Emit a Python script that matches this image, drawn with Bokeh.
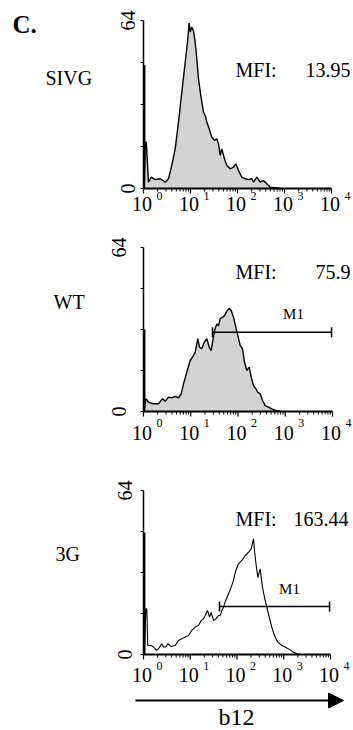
import numpy as np
from bokeh.plotting import figure
from bokeh.layouts import column
from bokeh.models import Range1d, Arrow, NormalHead
from bokeh.core.properties import value
from bokeh.embed import file_html
from bokeh.resources import INLINE

# ---- data: b12 staining histograms (x in decades of fluorescence, y in events) ----
decades = [0, 1, 2, 3, 4]
count_ticks = [0, 16, 32, 48, 64]
count_max = 64

samples = ["SIVG", "WT", "3G"]
mfi = [13.95, 75.9, 163.44]
first_channel_log = 0.015
first_channel_counts = [47, 32, 47.6]

sivg_log = [0.02, 0.04, 0.06, 0.106, 0.164, 0.249, 0.355, 0.462, 0.532, 0.602,
            0.674, 0.745, 0.815, 0.887, 0.936, 0.972, 0.994, 1.028, 1.064, 1.100,
            1.134, 1.170, 1.219, 1.277, 1.313, 1.347, 1.398, 1.453, 1.511, 1.560,
            1.596, 1.632, 1.666, 1.723, 1.772, 1.845, 1.915, 1.964, 2.021, 2.091,
            2.164, 2.234, 2.304, 2.340, 2.411, 2.483, 2.553, 2.623, 2.696, 2.802, 2.91]
sivg_counts = [0, 17.6, 17.6, 2.4, 4.3, 3.4, 3.7, 2.4, 3.7, 8.8,
               15.1, 25.3, 36.7, 48, 55.7, 63, 59.6, 61.5, 60, 55.7,
               49.4, 41.8, 35.4, 29, 27.8, 25.3, 22.7, 19.5, 18.3, 18.9,
               17, 12.6, 15.1, 11.3, 8.8, 7.5, 8.1, 9.4, 6.9, 4.3,
               3.7, 3.4, 3.7, 2.4, 4.3, 2.4, 3, 1.8, 0.5, 0.3, 0]

wt_log = [0.02, 0.049, 0.106, 0.212, 0.317, 0.402, 0.459, 0.529, 0.599, 0.671,
          0.741, 0.798, 0.847, 0.916, 0.988, 1.037, 1.094, 1.149, 1.185, 1.234,
          1.285, 1.340, 1.390, 1.433, 1.460, 1.503, 1.551, 1.587, 1.623, 1.672,
          1.714, 1.763, 1.814, 1.856, 1.905, 1.953, 1.996, 2.047, 2.095, 2.138,
          2.186, 2.237, 2.279, 2.328, 2.377, 2.419, 2.470, 2.519, 2.575, 2.646,
          2.715, 2.800, 2.90]
wt_counts = [0, 5.0, 3.6, 3.0, 3.0, 5.0, 4.0, 5.6, 5.3, 5.9,
             5.3, 6.9, 10.8, 15.3, 19.9, 21.2, 23.1, 28.4, 25.1, 24.5,
             27.0, 28.4, 25.1, 23.8, 27.0, 31.6, 34.2, 33.5, 36.2, 36.8,
             37.4, 39.1, 40.3, 39.4, 36.8, 32.9, 29.6, 25.7, 24.5, 19.2,
             16.0, 17.3, 13.4, 10.1, 8.9, 7.5, 6.9, 4.3, 2.3, 1.7,
             1.0, 0.4, 0]

g3_log = [0.02, 0.05, 0.07, 0.092, 0.165, 0.214, 0.284, 0.336, 0.391, 0.428,
          0.477, 0.520, 0.593, 0.678, 0.749, 0.819, 0.892, 0.963, 1.033, 1.106,
          1.176, 1.234, 1.283, 1.320, 1.369, 1.412, 1.448, 1.497, 1.547, 1.604,
          1.641, 1.675, 1.711, 1.760, 1.818, 1.876, 1.925, 1.974, 2.032, 2.103,
          2.175, 2.246, 2.304, 2.353, 2.374, 2.402, 2.445, 2.496, 2.545, 2.588,
          2.637, 2.689, 2.744, 2.802, 2.873, 2.958, 3.031, 3.138, 3.209, 3.279, 3.36]
g3_counts = [0, 17.8, 17.8, 3.5, 3.5, 2.9, 1.6, 2.6, 4.2, 2.9,
             2.9, 4.2, 3.1, 3.5, 5.5, 6.1, 6.8, 7.4, 9.4, 10.7,
             11.3, 13.3, 13.9, 15.2, 17.2, 14.6, 16.5, 13.3, 13.9, 15.2,
             15.2, 17.2, 18.5, 21.1, 23.7, 26.3, 28.9, 32.8, 35.4, 36.7,
             38.6, 39.9, 41.2, 45.1, 40.6, 36.0, 30.1, 33.4, 26.3, 22.3,
             18.5, 14.6, 10.7, 7.4, 4.8, 3.5, 2.9, 1.8, 0.9, 0.3, 0]

# M1 marker gates: [start decade, end decade], drawn at a given count level
wt_gate = [1.46, 3.98]
wt_gate_level = 30.9
g3_gate = [1.626, 3.98]
g3_gate_level = 18.7

SERIF = value("Liberation Serif")
FILL = "#d3d3d3"
W = 353


def make_panel(height, left, right, top, bottom):
    """A panel whose frame is the whole canvas; pixel box of the axes is given."""
    ppd = (right - left) / 4.0
    ppc = (bottom - top) / float(count_max)
    p = figure(width=W, height=height, output_backend="svg", toolbar_location=None,
               x_range=Range1d(-left / ppd, (W - left) / ppd),
               y_range=Range1d(-(height - bottom) / ppc, bottom / ppc),
               min_border=0, x_axis_location=None, y_axis_location=None)
    p.xgrid.visible = False
    p.ygrid.visible = False
    p.outline_line_color = None
    p.background_fill_color = "white"
    p.border_fill_color = "white"

    def sx(px):
        return (px - left) / ppd

    def sy(py):
        return (bottom - py) / ppc

    return p, sx, sy, ppd, ppc


def draw_text(p, sx, sy, px, py, s, size="20px", style="normal", align="left", angle=0.0):
    p.text(x=[sx(px)], y=[sy(py)], text=[s], text_font=SERIF, text_font_size=size,
           text_font_style=style, text_align=align, text_baseline="middle",
           angle=angle, text_color="black")


def draw_axes(p, sx, sy, ppd, ppc, label_mid, sup_mid, ylab_mid):
    # y axis with short outward ticks
    p.line([0, 0], [0, count_max], line_color="black", line_width=1.5)
    p.segment(x0=[-3 / ppd] * len(count_ticks), y0=count_ticks,
              x1=[0] * len(count_ticks), y1=count_ticks, line_color="black", line_width=1.2)
    # x axis with logarithmic minor ticks
    p.line([decades[0], decades[-1]], [0, 0], line_color="black", line_width=2)
    p.segment(x0=decades, y0=[0] * len(decades), x1=decades,
              y1=[-5 / ppc] * len(decades), line_color="black", line_width=1.2)
    minors = [d + np.log10(k) for d in decades[:-1] for k in range(2, 10)]
    p.segment(x0=minors, y0=[0] * len(minors), x1=minors,
              y1=[-3 / ppc] * len(minors), line_color="black", line_width=1)
    # decade labels: "10" with a raised exponent
    p.text(x=[d - 1.5 / ppd for d in decades], y=[sy(label_mid)] * len(decades),
           text=["10"] * len(decades), text_font=SERIF, text_font_size="20px",
           text_align="center", text_baseline="middle", text_color="black")
    p.text(x=[d + 13 / ppd for d in decades], y=[sy(sup_mid)] * len(decades),
           text=[str(d) for d in decades], text_font=SERIF, text_font_size="12px",
           text_align="left", text_baseline="middle", text_color="black")
    # rotated count labels at both ends of the y axis
    p.text(x=[sx(ylab_mid)] * 2, y=[0, count_max], text=["0", str(count_max)],
           angle=np.pi / 2, text_font=SERIF, text_font_size="20px",
           text_align="center", text_baseline="middle", text_color="black")


def draw_hist(p, xs, ys, filled, first_count):
    p.segment(x0=[first_channel_log], y0=[0], x1=[first_channel_log], y1=[first_count],
              line_color="black", line_width=2.5)
    if filled:
        p.varea(x=xs, y1=[0] * len(xs), y2=ys, fill_color=FILL)
        p.line(xs, ys, line_color="black", line_width=1.4)
    else:
        p.line(xs, ys, line_color="black", line_width=1.1)


def draw_gate(p, sx, sy, gate, level, label_px, label_py):
    p.line(gate, [level, level], line_color="black", line_width=1.5)
    p.scatter(gate, [level, level], marker="dash", angle=np.pi / 2, size=10,
              line_color="black", line_width=1.5)
    draw_text(p, sx, sy, label_px, label_py, "M1", size="15px", align="center")


# ---- panel 1: SIVG (page rows 0-225) ----
p1, sx, sy, ppd, ppc = make_panel(225, 143, 331, 20, 188)
draw_hist(p1, sivg_log, sivg_counts, True, first_channel_counts[0])
draw_axes(p1, sx, sy, ppd, ppc, 203.5, 195, 127)
draw_text(p1, sx, sy, 12, 23.5, "C.", size="25px", style="bold")
draw_text(p1, sx, sy, 45, 77, samples[0])
draw_text(p1, sx, sy, 235, 69.5, "MFI:")
draw_text(p1, sx, sy, 305, 69.5, f"{mfi[0]:.2f}")

# ---- panel 2: WT (page rows 225-462) ----
o2 = 225
p2, sx, sy, ppd, ppc = make_panel(237, 143, 332, 247 - o2, 411 - o2)
draw_hist(p2, wt_log, wt_counts, True, first_channel_counts[1])
draw_gate(p2, sx, sy, wt_gate, wt_gate_level, 293, 313.5 - o2)
draw_axes(p2, sx, sy, ppd, ppc, 432 - o2, 422.5 - o2, 118)
draw_text(p2, sx, sy, 53, 301.5 - o2, samples[1])
draw_text(p2, sx, sy, 235, 271.5 - o2, "MFI:")
draw_text(p2, sx, sy, 315, 271.5 - o2, f"{mfi[1]:g}")

# ---- panel 3: 3G (page rows 462-730) ----
o3 = 462
p3, sx, sy, ppd, ppc = make_panel(268, 143, 330, 490 - o3, 654 - o3)
draw_hist(p3, g3_log, g3_counts, False, first_channel_counts[2])
draw_gate(p3, sx, sy, g3_gate, g3_gate_level, 289, 588.5 - o3)
draw_axes(p3, sx, sy, ppd, ppc, 674.5 - o3, 665 - o3, 124.5)
draw_text(p3, sx, sy, 55, 553.5 - o3, samples[2])
draw_text(p3, sx, sy, 235, 518.5 - o3, "MFI:")
draw_text(p3, sx, sy, 293, 518.5 - o3, f"{mfi[2]:.2f}")
p3.add_layout(Arrow(x_start=sx(135), y_start=sy(700 - o3), x_end=sx(343), y_end=sy(700 - o3),
                    line_color="black", line_width=2,
                    end=NormalHead(size=15, fill_color="black", line_color="black")))
draw_text(p3, sx, sy, 236, 716.5 - o3, "b12", size="24px", align="center")

layout = column(p1, p2, p3, spacing=0)
open("out.html", "w").write(file_html(layout, INLINE))
